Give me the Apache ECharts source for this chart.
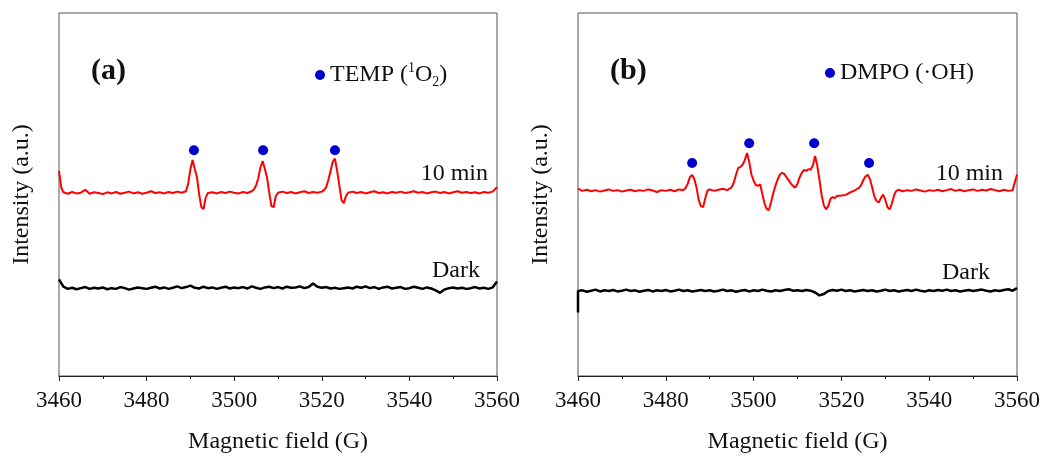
<!DOCTYPE html>
<html>
<head>
<meta charset="utf-8">
<script src="https://cdn.jsdelivr.net/npm/echarts@6/dist/echarts.min.js"></script>
<style>
html,body{margin:0;padding:0;background:#fff;}
#chart{width:1045px;height:459px;}
</style>
</head>
<body>
<div id="chart"></div>
<script>
// ---------- DATA ----------
const xTicks = [3460, 3480, 3500, 3520, 3540, 3560];

// Panel (a): TEMP, 10 min (red)
const redAField = [3460,3460.5,3461,3462,3463,3464,3465,3466,3467,3468,3469,3470,3471,3472,3473,3474,3475,3476,3477,3478,3479,3480,3481,3482,3483,3484,3485,3486,3487,3488,3489,3489.5,3490,3490.5,3491,3491.5,3492,3492.5,3493,3493.5,3494,3495,3496,3497,3498,3499,3500,3501,3502,3503,3504,3504.5,3505,3505.5,3506,3506.5,3507,3507.5,3508,3508.5,3509,3509.5,3510,3511,3512,3513,3514,3515,3516,3517,3518,3519,3520,3520.5,3521,3521.5,3522,3522.5,3523,3523.5,3524,3524.5,3525,3525.5,3526,3527,3528,3529,3530,3531,3532,3533,3534,3535,3536,3537,3538,3539,3540,3541,3542,3543,3544,3545,3546,3547,3548,3549,3550,3551,3552,3553,3554,3555,3556,3557,3558,3559,3560];
const redAValue = [56.5,52.0,50.6,50.2,50.7,50.3,50.5,51.3,50.2,50.6,50.4,50.1,50.6,50.3,50.7,50.2,50.5,50.8,50.3,50.6,50.2,50.5,50.9,50.4,50.6,50.3,50.7,50.4,50.8,50.5,50.9,53.0,57.0,59.5,57.0,54.8,50.0,46.5,46.0,49.2,50.4,50.6,50.3,50.7,50.4,50.8,50.5,50.3,50.7,50.4,50.9,51.4,52.5,54.5,57.5,59.2,57.0,54.6,50.5,46.8,46.5,49.5,50.5,50.8,50.4,50.7,50.3,50.6,50.9,50.4,50.7,50.5,50.8,51.2,52.0,54.0,56.5,59.0,59.9,56.5,52.5,48.5,47.6,49.5,50.5,50.8,50.4,50.7,50.3,50.6,50.9,50.4,50.6,50.3,50.7,50.5,50.8,50.4,50.6,50.9,50.5,50.7,50.3,50.6,50.8,50.4,50.7,50.3,50.6,50.9,50.5,50.7,50.4,50.6,50.3,50.7,50.5,50.8,52.0];

// Panel (a): Dark (black), 1 G steps from 3460 to 3560
const darkAValue = [26.6,24.6,24.0,24.3,23.9,24.2,24.5,24.0,24.3,24.1,
  24.4,23.9,24.2,24.0,24.5,24.2,23.8,24.1,24.4,24.2,
  24.0,24.3,24.6,24.1,24.4,24.0,24.3,24.7,24.2,24.5,
  24.9,24.3,24.1,24.6,24.2,24.4,24.0,24.3,24.6,24.1,
  24.4,24.2,24.5,24.1,24.7,24.3,24.0,24.4,24.6,24.2,
  24.5,24.1,24.6,24.3,24.4,24.7,24.2,24.5,25.5,24.6,
  24.3,24.5,24.1,24.3,24.0,24.2,24.4,24.1,24.6,24.3,
  24.7,24.2,24.5,24.0,24.4,24.6,24.1,24.3,24.5,24.0,
  24.2,24.6,24.3,24.0,24.4,24.1,23.6,22.9,23.8,24.2,
  24.4,24.1,24.3,24.0,24.2,24.5,24.1,24.3,24.0,24.4,
  26.0];

// Panel (a): TEMP (1O2) markers
const markAField = [3490.8, 3506.6, 3523.0];
const markAValue = [62.2, 62.2, 62.2];

// Panel (b): DMPO, 10 min (red)
const redBField = [3460,3461,3462,3463,3464,3465,3466,3467,3468,3469,3470,3471,3472,3473,3474,3475,3476,3477,3478,3479,3480,3481,3482,3483,3484,3484.5,3485,3485.5,3486,3486.5,3487,3487.5,3488,3488.5,3489,3489.5,3490,3491,3492,3493,3494,3495,3495.5,3496,3496.5,3497,3497.5,3498,3498.5,3499,3499.5,3500,3500.5,3501,3501.5,3502,3502.5,3503,3503.5,3504,3504.5,3505,3505.5,3506,3506.5,3507,3507.5,3508,3508.5,3509,3509.5,3510,3510.5,3511,3511.5,3512,3512.5,3513,3513.5,3514,3514.5,3515,3515.5,3516,3516.5,3517,3517.5,3518,3518.5,3519,3520,3521,3522,3523,3524,3524.5,3525,3525.5,3526,3526.5,3527,3527.5,3528,3528.5,3529,3529.5,3530,3530.5,3531,3531.5,3532,3532.5,3533,3534,3535,3536,3537,3538,3539,3540,3541,3542,3543,3544,3545,3546,3547,3548,3549,3550,3551,3552,3553,3554,3555,3556,3557,3558,3559,3560];
const redBValue = [51.6,51.0,51.3,50.9,51.2,50.8,51.1,51.4,51.0,51.2,50.8,51.1,51.3,50.9,51.2,51.0,51.4,51.1,50.7,51.2,51.0,51.3,50.9,51.4,51.2,51.8,53.0,54.8,55.4,54.2,51.9,48.5,46.8,46.5,49.0,51.1,51.4,51.0,51.3,51.6,51.2,52.0,53.3,55.5,57.3,57.6,58.2,59.5,61.4,59.0,55.5,53.8,52.6,52.4,52.8,50.0,47.5,46.0,45.7,48.0,50.5,52.5,54.2,55.5,56.0,55.6,54.8,53.9,53.0,52.3,51.9,53.0,54.8,56.0,56.8,56.5,57.0,56.8,58.0,60.6,58.0,54.0,49.8,47.0,45.9,46.8,48.8,49.3,49.0,49.6,49.7,49.9,50.6,51.1,51.8,52.6,54.0,55.0,55.4,54.3,52.0,49.5,48.2,47.8,49.0,50.0,48.5,46.5,45.9,47.5,49.8,51.0,51.3,50.9,51.2,51.0,51.4,51.1,50.8,51.2,51.0,51.3,50.9,51.2,51.5,51.0,51.3,50.9,51.2,51.4,51.0,51.3,51.1,51.5,51.2,50.9,51.3,51.0,51.2,55.5];

// Panel (b): Dark (black); first point is the drop at the left edge
const darkBField = [3460];
const darkBValue = [17.5,
  23.4,23.6,23.2,23.5,23.8,23.3,23.6,23.4,23.7,23.3,
  23.5,23.8,23.4,23.6,23.2,23.5,23.7,23.3,23.6,23.4,
  23.7,23.3,23.5,23.8,23.4,23.6,23.3,23.5,23.7,23.4,
  23.6,23.3,23.5,23.8,23.4,23.6,23.2,23.5,23.7,23.3,
  23.6,23.4,23.8,23.5,23.3,23.6,23.4,23.7,23.9,23.5,
  23.6,23.4,23.7,23.5,23.0,22.2,22.6,23.4,23.7,23.5,
  23.8,23.4,23.6,23.3,23.5,23.7,23.4,23.6,23.3,23.5,
  23.8,23.4,23.6,23.3,23.5,23.7,23.4,23.8,23.5,23.3,
  23.6,23.4,23.7,23.5,23.8,23.4,23.6,23.3,23.5,23.7,
  23.4,23.6,23.8,23.5,23.3,23.6,23.4,23.7,23.9,23.5,
  24.2];

// Panel (b): DMPO (·OH) markers
const markBField = [3486.0, 3499.0, 3513.8, 3526.3];
const markBValue = [58.7, 64.1, 64.1, 58.7];

// ---------- BUILD ----------
const unitField = [];
for (let f = 3460; f <= 3560; f += 1) unitField.push(f);
const darkAField = unitField.slice();
const darkBFieldAll = darkBField.concat(unitField);

function zip(xs, ys) { return xs.map((x, i) => [x, ys[i]]); }

const FONT = '"Liberation Serif", "Times New Roman", serif';
const INK = '#111';
const DOT = '#0000cc';

function makeX(gi) {
  return {
    type: 'value', gridIndex: gi, min: 3460, max: 3560, interval: 20,
    name: 'Magnetic field (G)', nameLocation: 'middle', nameGap: 54,
    nameTextStyle: { fontFamily: FONT, fontSize: 24, color: INK },
    axisLine: { show: true, onZero: false, lineStyle: { color: '#222', width: 1 } },
    axisTick: { show: true, inside: false, length: 5, lineStyle: { color: '#222' } },
    minorTick: { show: true, splitNumber: 2, length: 3, lineStyle: { color: '#222' } },
    axisLabel: { fontFamily: FONT, fontSize: 23, color: INK, margin: 13,
      formatter: v => xTicks.includes(v) ? String(v) : '' },
    splitLine: { show: false }
  };
}
function makeY(gi) {
  return {
    type: 'value', gridIndex: gi, min: 0, max: 100,
    name: 'Intensity (a.u.)', nameLocation: 'middle', nameGap: 25,
    nameTextStyle: { fontFamily: FONT, fontSize: 24, color: INK },
    axisLine: { show: false }, axisTick: { show: false },
    axisLabel: { show: false }, splitLine: { show: false }
  };
}

const legendRich = {
  t: { fontFamily: FONT, fontSize: 24, color: INK, lineHeight: 28 },
  sup: { fontFamily: FONT, fontSize: 14, color: INK, lineHeight: 16, verticalAlign: 'top' },
  sub: { fontFamily: FONT, fontSize: 14, color: INK, lineHeight: 14, verticalAlign: 'bottom' }
};

const chart = echarts.init(document.getElementById('chart'), null, { renderer: 'canvas' });
chart.setOption({
  animation: false,
  backgroundColor: '#fff',
  grid: [
    { left: 59, right: 548, top: 13, bottom: 78, show: true, borderColor: '#555', borderWidth: 1, backgroundColor: 'transparent' },
    { left: 578, right: 28, top: 13, bottom: 78, show: true, borderColor: '#555', borderWidth: 1, backgroundColor: 'transparent' }
  ],
  xAxis: [makeX(0), makeX(1)],
  yAxis: [makeY(0), makeY(1)],
  legend: [
    { data: ['TEMP'], left: 310, top: 56, itemWidth: 10, itemHeight: 10, icon: 'circle', selectedMode: false,
      formatter: () => '{t|TEMP (}{sup|1}{t|O}{sub|2}{t|)}',
      textStyle: { fontFamily: FONT, fontSize: 24, color: INK, rich: legendRich } },
    { data: ['DMPO'], left: 820, top: 56, itemWidth: 10, itemHeight: 10, icon: 'circle', selectedMode: false,
      formatter: () => '{t|DMPO (·OH)}',
      textStyle: { fontFamily: FONT, fontSize: 24, color: INK, rich: legendRich } }
  ],
  graphic: [
    { type: 'text', left: 91, top: 56, style: { text: '(a)', fontFamily: FONT, fontSize: 30, fontWeight: 'bold', fill: INK } },
    { type: 'text', left: 610, top: 56, style: { text: '(b)', fontFamily: FONT, fontSize: 30, fontWeight: 'bold', fill: INK } },
    { type: 'text', right: 557, top: 162, style: { text: '10 min', fontFamily: FONT, fontSize: 24, fill: INK } },
    { type: 'text', right: 565, top: 259, style: { text: 'Dark', fontFamily: FONT, fontSize: 24, fill: INK } },
    { type: 'text', right: 42, top: 162, style: { text: '10 min', fontFamily: FONT, fontSize: 24, fill: INK } },
    { type: 'text', right: 55, top: 261, style: { text: 'Dark', fontFamily: FONT, fontSize: 24, fill: INK } }
  ],
  series: [
    { name: '10 min (a)', type: 'line', xAxisIndex: 0, yAxisIndex: 0, data: zip(redAField, redAValue),
      showSymbol: false, lineStyle: { color: '#ff0000', width: 2 }, itemStyle: { color: '#ff0000' } },
    { name: 'Dark (a)', type: 'line', xAxisIndex: 0, yAxisIndex: 0, data: zip(darkAField, darkAValue),
      showSymbol: false, lineStyle: { color: '#000', width: 2.5 }, itemStyle: { color: '#000' } },
    { name: 'TEMP', type: 'scatter', xAxisIndex: 0, yAxisIndex: 0, data: zip(markAField, markAValue),
      symbol: 'circle', symbolSize: 10, itemStyle: { color: DOT, opacity: 1 }, z: 5 },
    { name: '10 min (b)', type: 'line', xAxisIndex: 1, yAxisIndex: 1, data: zip(redBField, redBValue),
      showSymbol: false, lineStyle: { color: '#ff0000', width: 2 }, itemStyle: { color: '#ff0000' } },
    { name: 'Dark (b)', type: 'line', xAxisIndex: 1, yAxisIndex: 1, data: zip(darkBFieldAll, darkBValue),
      showSymbol: false, lineStyle: { color: '#000', width: 2.5 }, itemStyle: { color: '#000' } },
    { name: 'DMPO', type: 'scatter', xAxisIndex: 1, yAxisIndex: 1, data: zip(markBField, markBValue),
      symbol: 'circle', symbolSize: 10, itemStyle: { color: DOT, opacity: 1 }, z: 5 }
  ]
});
</script>
</body>
</html>
